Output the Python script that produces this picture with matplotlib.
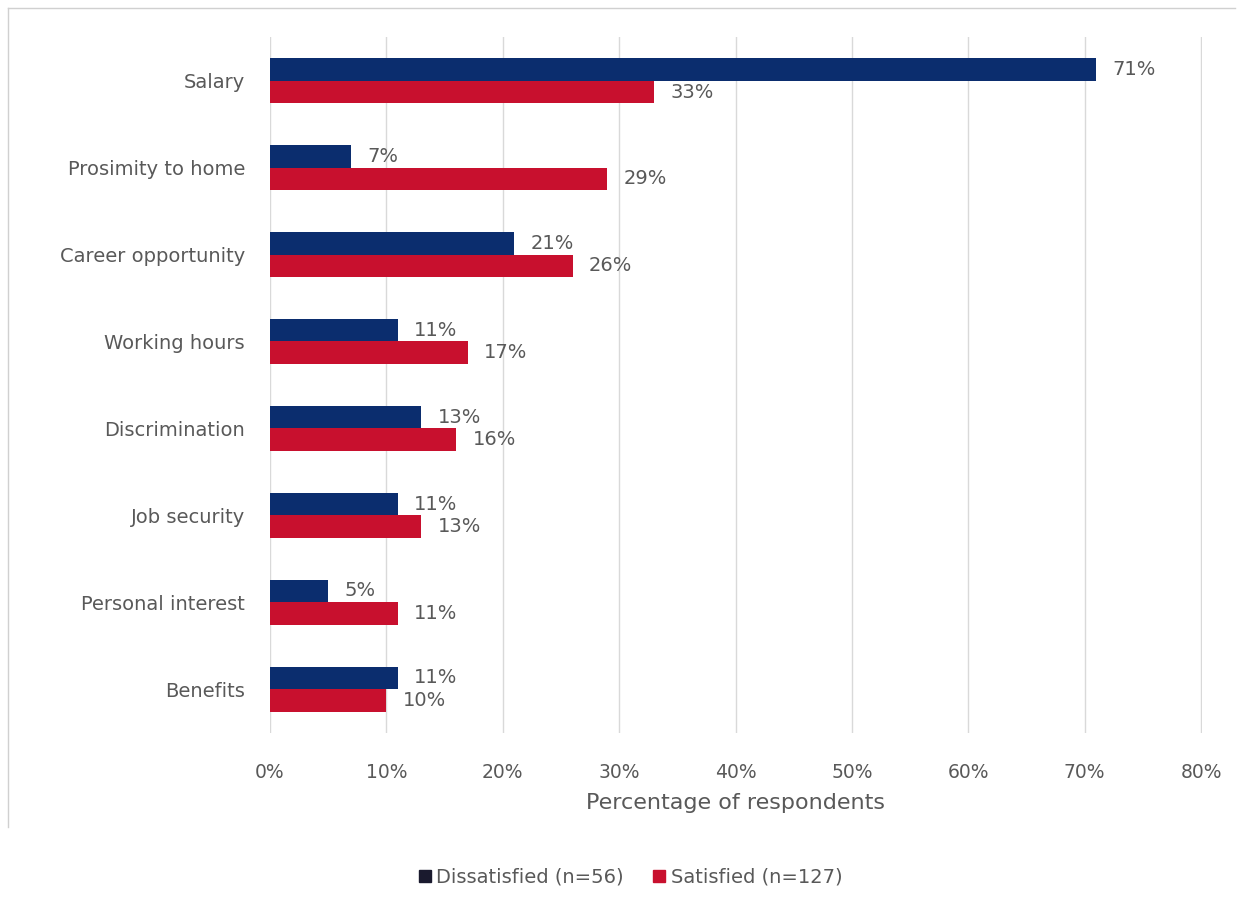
import matplotlib.pyplot as plt
import numpy as np
from matplotlib.lines import Line2D
from matplotlib.patches import Patch

categories = ["Salary", "Prosimity to home", "Career opportunity", "Working hours",
              "Discrimination", "Job security", "Personal interest", "Benefits"]
dissatisfied = [71, 7, 21, 11, 13, 11, 5, 11]
satisfied = [33, 29, 26, 17, 16, 13, 11, 10]
xticks = [0, 10, 20, 30, 40, 50, 60, 70, 80]

NAVY = "#0b2d6e"
RED = "#c8102e"
GREY = "#595959"

plt.rcParams['font.family'] = ['DejaVu Sans']

fig = plt.figure(figsize=(12.44, 9.09), dpi=100)
ax = fig.add_axes([0.217, 0.194, 0.749, 0.765])

y = np.arange(len(categories))
h = 0.26
b1 = ax.barh(y - h / 2, dissatisfied, height=h, color=NAVY, label="Dissatisfied (n=56)", zorder=3)
b2 = ax.barh(y + h / 2, satisfied, height=h, color=RED, label="Satisfied (n=127)", zorder=3)

for bars, vals in ((b1, dissatisfied), (b2, satisfied)):
    for bar, v in zip(bars, vals):
        ax.text(bar.get_width() + 1.4, bar.get_y() + bar.get_height() / 2, f"{v}%",
                va="center", ha="left", fontsize=14, color=GREY, zorder=4)

ax.set_ylim(len(categories) - 0.5, -0.5)
ax.set_xlim(0, 80.05)
ax.set_yticks(y)
ax.set_yticklabels(categories, fontsize=14, color=GREY)
ax.set_xticks(xticks)
ax.set_xticklabels([f"{t}%" for t in xticks], fontsize=13.5, color=GREY)
ax.tick_params(axis="both", length=0)
ax.tick_params(axis="x", pad=22)
ax.tick_params(axis="y", pad=18)
ax.grid(axis="x", color="#d9d9d9", linewidth=1, zorder=0)
for s in ax.spines.values():
    s.set_visible(False)
ax.set_xlabel("Percentage of respondents", fontsize=16, color=GREY, labelpad=8)

handles = [Patch(color="#1a1a2e", label="Dissatisfied (n=56)"),
           Patch(color=RED, label="Satisfied (n=127)")]
fig.legend(handles=handles, loc="center", bbox_to_anchor=(0.507, 0.035), ncol=2,
           frameon=False, fontsize=14, labelcolor=GREY, handlelength=0.6,
           handleheight=0.6, handletextpad=0.3, columnspacing=1.5)

# light frame along the top and left edges
fig.add_artist(Line2D([8 / 1244, 1235 / 1244], [1 - 8 / 909, 1 - 8 / 909],
                      transform=fig.transFigure, color="#d0d0d0", linewidth=1))
fig.add_artist(Line2D([8 / 1244, 8 / 1244], [1 - 8 / 909, 1 - 827 / 909],
                      transform=fig.transFigure, color="#d0d0d0", linewidth=1))

fig.savefig("out.png", dpi=100)
